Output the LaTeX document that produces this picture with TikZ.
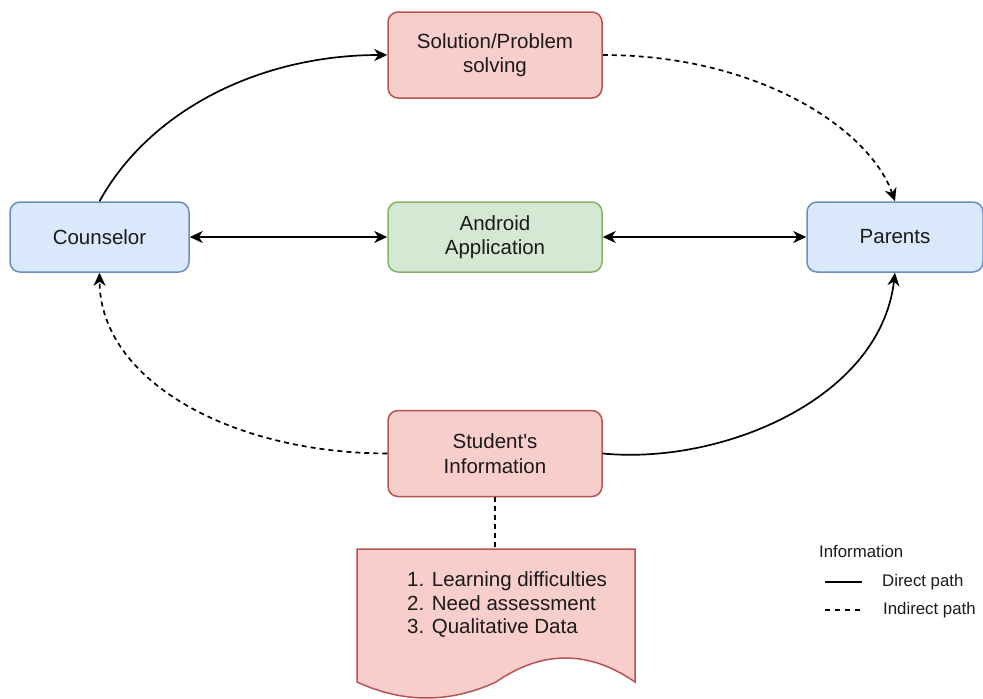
\documentclass[tikz,border=0pt]{standalone}
\usepackage{fontspec}
\setmainfont{Liberation Sans}
\newfontfamily\plainsans{Liberation Sans}
\usetikzlibrary{arrows.meta}
\definecolor{redfill}{HTML}{F8CECC}
\definecolor{redline}{HTML}{B85450}
\definecolor{bluefill}{HTML}{DAE8FC}
\definecolor{blueline}{HTML}{6C8EBF}
\definecolor{greenfill}{HTML}{D5E8D4}
\definecolor{greenline}{HTML}{82B366}
\definecolor{txt}{HTML}{1A1A1A}
\begin{document}
\begin{tikzpicture}[x=1pt,y=-1pt,
  box/.style={rounded corners=10pt, line width=1.5pt, inner sep=0pt, align=center,
    font=\plainsans\fontsize{20.5}{24.5}\selectfont, text=txt},
  redbox/.style={box, draw=redline, fill=redfill, minimum width=214pt, minimum height=86pt},
  bluebox/.style={box, draw=blueline, fill=bluefill, minimum height=70pt},
  greenbox/.style={box, draw=greenline, fill=greenfill, minimum width=214pt, minimum height=70pt},
  conn/.style={line width=1.7pt, draw=black},
  dconn/.style={conn, dash pattern=on 5pt off 4pt},
  tipend/.style={-{Stealth[length=13pt,width=12pt,inset=4pt]}},
  tipboth/.style={{Stealth[length=13pt,width=12pt,inset=4pt]}-{Stealth[length=13pt,width=12pt,inset=4pt]}},
  legtext/.style={font=\plainsans\fontsize{16.8}{20}\selectfont, text=txt, inner sep=0pt, anchor=west}
]
\useasboundingbox (0,0) rectangle (983,699);

% nodes
\node[redbox] (sol) at (495,55) {Solution/Problem\\solving};
\node[bluebox, minimum width=179pt] (cou) at (99.5,237) {Counselor};
\node[greenbox] (and) at (495,237) {Android\\Application};
\node[bluebox, minimum width=176pt] (par) at (895,237) {Parents};
\node[redbox] (stu) at (495,453.5) {Student's\\Information};

% document shape
\draw[line width=1.5pt, draw=redline, fill=redfill]
  (357,549) -- (635,549) -- (635,682)
  .. controls (588.7,650) and (542.3,650) .. (496,682)
  .. controls (449.7,703.3) and (403.3,703.3) .. (357,682) -- cycle;
\coordinate (doctop) at (495,549);
\node[anchor=west, align=left, inner sep=0pt, text=txt,
  font=\plainsans\fontsize{20.5}{23.5}\selectfont] (doc) at (407,605)
  {1. Learning difficulties\\2. Need assessment\\3. Qualitative Data};

% connectors
\draw[conn, tipend] (cou.north) .. controls (150,110) and (260,55) .. (sol.west);
\draw[dconn, tipend] (sol.east) .. controls (760,55) and (870,130) .. (par.north);
\draw[dconn, tipend] (stu.west) .. controls (230,453) and (100,380) .. (cou.south);
\draw[conn, tipend] (stu.east) .. controls (720,465) and (880,400) .. (par.south);
\draw[conn, tipboth] (cou.east) -- (and.west);
\draw[conn, tipboth] (and.east) -- (par.west);
\draw[dconn] (stu.south) -- (doctop);

% legend
\node[legtext] (leg) at (819,551) {Information};
\node[legtext] (direct) at (882,582) {Direct path};
\node[legtext] (indirect) at (883,610) {Indirect path};
\coordinate (d1) at (825,582);
\coordinate (d2) at (862,582);
\coordinate (i1) at (825,610);
\coordinate (i2) at (862,610);
\draw[line width=1.3pt] (d1) -- (d2);
\draw[line width=1.3pt, dash pattern=on 5pt off 5pt] (i1) -- (i2);
\end{tikzpicture}
\end{document}
